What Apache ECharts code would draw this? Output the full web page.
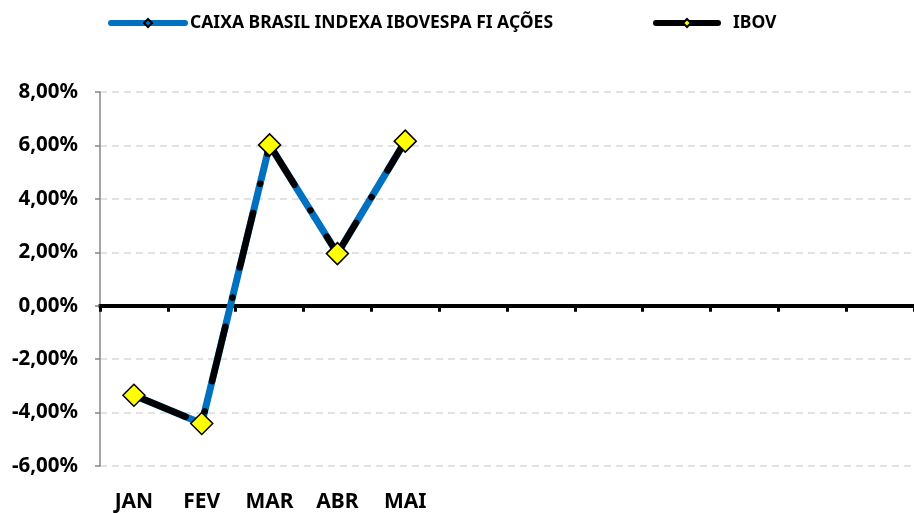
<!DOCTYPE html>
<html>
<head>
<meta charset="utf-8">
<script src="https://cdn.jsdelivr.net/npm/echarts@6/dist/echarts.min.js"></script>
<style>
  html, body { margin: 0; padding: 0; background: #fff; }
  #chart { width: 914px; height: 513px; }
</style>
</head>
<body>
<div id="chart"></div>
<script>
// months shown on the axis (the rest of the year is still empty)
var months = ['JAN', 'FEV', 'MAR', 'ABR', 'MAI', '', '', '', '', '', '', ''];
var caixaName = 'CAIXA BRASIL INDEXA IBOVESPA FI AÇÕES';
var ibovName = 'IBOV';
// monthly returns in %
var caixaValues = [-3.35, -4.41, 6.02, 1.95, 6.16];
var ibovValues = [-3.35, -4.41, 6.02, 1.95, 6.16];
var yTicks = { min: -6, max: 8, step: 2 };

var fontFam = '"Noto Sans", "DejaVu Sans", sans-serif';

function pct(v) {
  return v.toFixed(2).replace('.', ',') + '%';
}

var myChart = echarts.init(document.getElementById('chart'));

var options = {
  animation: false,
  legend: [{
    left: 108,
    top: 14,
    padding: 0,
    itemWidth: 74,
    itemHeight: 10,
    data: [caixaName],
    lineStyle: { width: 6, cap: 'round', type: 'solid' },
    textStyle: { fontFamily: fontFam, fontWeight: 'bold', fontSize: 17.5, color: '#000' }
  }, {
    left: 653,
    top: 14,
    padding: 0,
    itemWidth: 62,
    itemHeight: 10,
    data: [ibovName],
    lineStyle: { width: 6, cap: 'round', type: 'solid' },
    textStyle: { fontFamily: fontFam, fontWeight: 'bold', fontSize: 17.5, color: '#000', padding: [0, 0, 0, 10] }
  }],
  grid: {
    left: 100,
    top: 92,
    width: 816,
    height: 376
  },
  xAxis: [{
    type: 'category',
    data: months,
    boundaryGap: true,
    axisLine: { onZero: true, lineStyle: { color: '#000', width: 4 } },
    axisTick: { show: true, interval: 0, length: 6, lineStyle: { color: '#000', width: 3 } },
    axisLabel: { show: false },
    splitLine: { show: false }
  }, {
    type: 'category',
    data: months,
    position: 'bottom',
    boundaryGap: true,
    axisLine: { show: false, onZero: false },
    axisTick: { show: false },
    axisLabel: {
      interval: 0,
      margin: 26,
      fontFamily: fontFam,
      fontWeight: 'bold',
      fontSize: 21,
      color: '#000'
    }
  }],
  yAxis: {
    type: 'value',
    min: yTicks.min,
    max: yTicks.max,
    interval: yTicks.step,
    axisLine: { show: true, lineStyle: { color: '#868686', width: 1.5 } },
    axisTick: { show: true, length: 5, lineStyle: { color: '#868686', width: 1.5 } },
    axisLabel: {
      formatter: pct,
      margin: 22,
      fontFamily: fontFam,
      fontWeight: 'bold',
      fontSize: 20.5,
      color: '#000'
    },
    splitLine: { lineStyle: { color: '#d9d9d9', width: 1.5, type: [7, 5] } }
  },
  series: [{
    name: caixaName,
    type: 'line',
    xAxisIndex: 0,
    data: caixaValues,
    symbol: 'diamond',
    symbolSize: 8,
    lineStyle: { color: '#0070c0', width: 7 },
    itemStyle: { color: '#0070c0', borderColor: '#000', borderWidth: 1.5 }
  }, {
    name: ibovName,
    type: 'line',
    xAxisIndex: 0,
    data: ibovValues,
    symbol: 'diamond',
    symbolSize: 22,
    lineStyle: { color: '#000', width: 6.5, type: [56, 30, 0.1, 31], cap: 'round' },
    itemStyle: { color: '#ffff00', borderColor: '#000', borderWidth: 1.5 }
  }]
};

myChart.setOption(options);
</script>
</body>
</html>
